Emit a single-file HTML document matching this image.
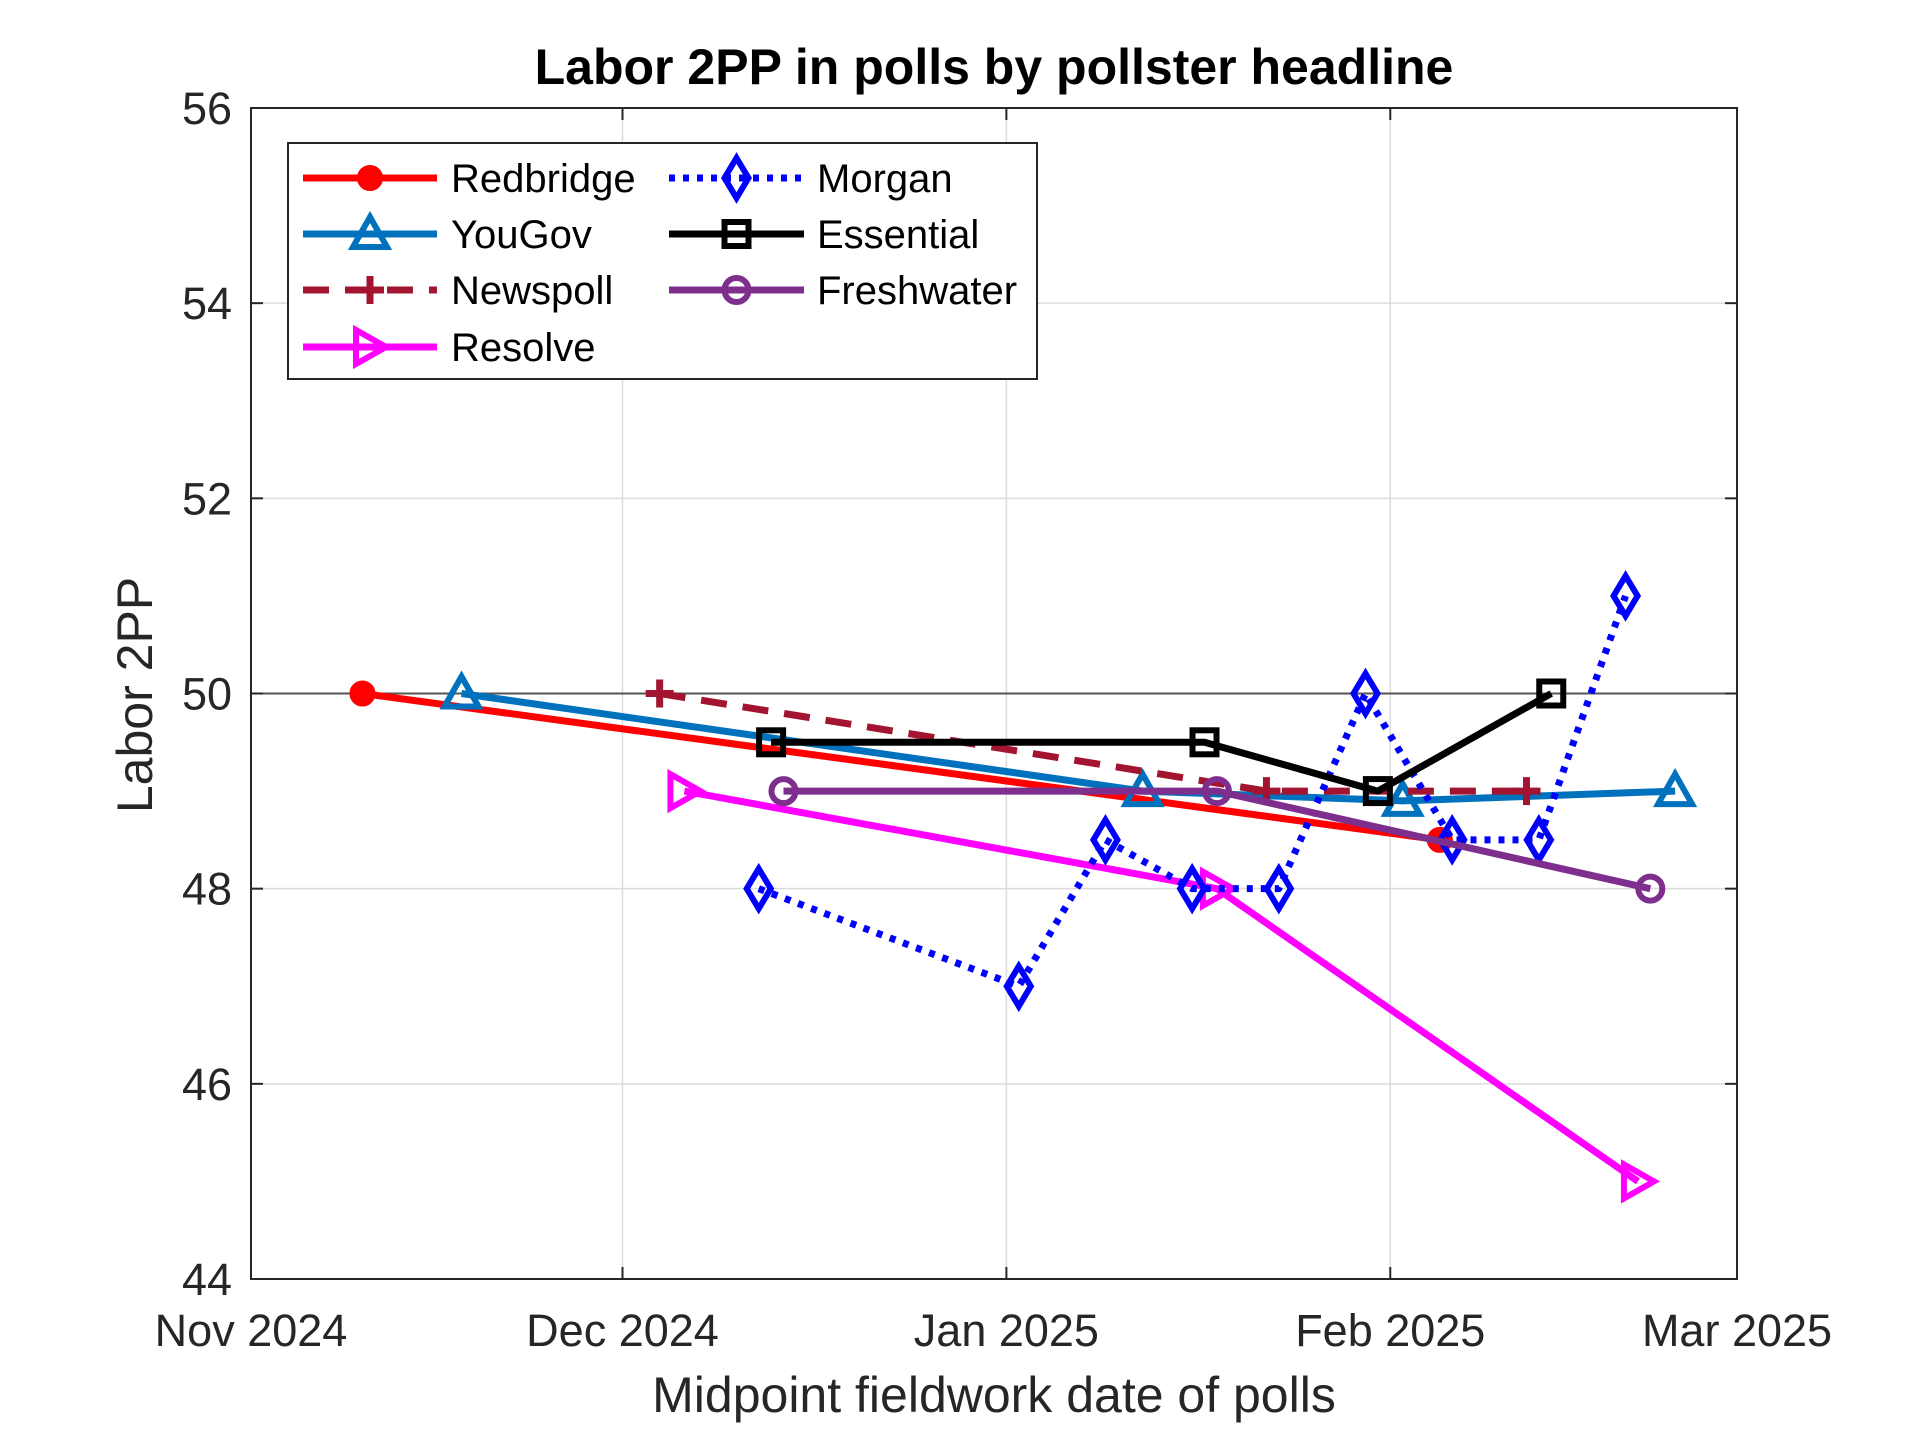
<!DOCTYPE html>
<html><head><meta charset="utf-8"><style>
html,body{margin:0;padding:0;background:#fff;}
svg{display:block;font-family:"Liberation Sans",Arial,sans-serif;}
</style></head><body>
<svg id="chart" width="1920" height="1439" viewBox="0 0 1920 1439" xmlns="http://www.w3.org/2000/svg">
<rect width="1920" height="1439" fill="#fff"/>
<text x="994" y="84" text-anchor="middle" font-size="50" font-weight="bold" fill="#000">Labor 2PP in polls by pollster headline</text>
<g id="grid"></g>
<g id="series"></g>
<rect x="251" y="108" width="1486" height="1171" fill="none" stroke="#262626" stroke-width="2"/>
<g id="ticks"></g>
<text transform="translate(152,695) rotate(-90)" text-anchor="middle" font-size="50" fill="#262626">Labor 2PP</text>
<text x="994" y="1412" text-anchor="middle" font-size="50" fill="#262626">Midpoint fieldwork date of polls</text>
<g id="legend"></g>
</svg>
<script>
// ---- data (day offsets from 1 Nov 2024) ----
const seriesNames = ["Redbridge","YouGov","Newspoll","Resolve","Morgan","Essential","Freshwater"];
const redbridgeDays = [9, 96];
const redbridgeVals = [50, 48.5];
const yougovDays = [17, 72, 93, 115];
const yougovVals = [50, 49, 48.9, 49];
const newspollDays = [33, 82, 103];
const newspollVals = [50, 49, 49];
const resolveDays = [35, 78, 112];
const resolveVals = [49, 48, 45];
const morganDays = [41, 62, 69, 76, 83, 90, 97, 104, 111];
const morganVals = [48, 47, 48.5, 48, 48, 50, 48.5, 48.5, 51];
const essentialDays = [42, 77, 91, 105];
const essentialVals = [49.5, 49.5, 49, 50];
const freshwaterDays = [43, 78, 113];
const freshwaterVals = [49, 49, 48];
const xTickDays = [0, 30, 61, 92, 120];
const xTickLabels = ["Nov 2024","Dec 2024","Jan 2025","Feb 2025","Mar 2025"];
const yTicks = [44, 46, 48, 50, 52, 54, 56];

const NS = "http://www.w3.org/2000/svg";
const X0 = 251, X1 = 1737, Y0 = 1279, Y1 = 108;
const xs = d => X0 + (d - 0) / 120 * (X1 - X0);
const ys = v => Y0 - (v - 44) / 12 * (Y0 - Y1);
function mk(tag, attrs, parent){ const e = document.createElementNS(NS, tag); for (const k in attrs) e.setAttribute(k, attrs[k]); parent.appendChild(e); return e; }

const grid = document.getElementById('grid'), ticks = document.getElementById('ticks');
xTickDays.forEach((d, i) => {
  const x = xs(d);
  const g = mk('line', {x1:x, x2:x, y1:Y1, y2:Y0, stroke:'#dcdcdc', 'stroke-width':1.5}, grid);
  
  
  mk('line', {x1:x, x2:x, y1:Y0, y2:Y0-12, stroke:'#262626', 'stroke-width':2}, ticks);
  mk('line', {x1:x, x2:x, y1:Y1, y2:Y1+12, stroke:'#262626', 'stroke-width':2}, ticks);
  const t = mk('text', {x:x, y:1346, 'text-anchor':'middle', 'font-size':45, fill:'#262626'}, ticks);
  t.textContent = xTickLabels[i];
  
  
});
yTicks.forEach(v => {
  const y = ys(v);
  const g = mk('line', {x1:X0, x2:X1, y1:y, y2:y, stroke: v===50 ? '#555' : '#dcdcdc', 'stroke-width': v===50 ? 2 : 1.5}, grid);
  
  
  mk('line', {x1:X0, x2:X0+12, y1:y, y2:y, stroke:'#262626', 'stroke-width':2}, ticks);
  mk('line', {x1:X1, x2:X1-12, y1:y, y2:y, stroke:'#262626', 'stroke-width':2}, ticks);
  const t = mk('text', {x:232, y:y+16, 'text-anchor':'end', 'font-size':45, fill:'#262626'}, ticks);
  t.textContent = v;
  
  
});

const styles = [
  {days:redbridgeDays, vals:redbridgeVals, color:'#ff0000', dash:null, marker:'dot'},
  {days:yougovDays, vals:yougovVals, color:'#0072bd', dash:null, marker:'tri'},
  {days:newspollDays, vals:newspollVals, color:'#a2142f', dash:'26 16', marker:'plus'},
  {days:resolveDays, vals:resolveVals, color:'#ff00ff', dash:null, marker:'right'},
  {days:morganDays, vals:morganVals, color:'#0000ff', dash:'6 8', marker:'diamond'},
  {days:essentialDays, vals:essentialVals, color:'#000000', dash:null, marker:'square'},
  {days:freshwaterDays, vals:freshwaterVals, color:'#7e2f8e', dash:null, marker:'circle'}
];
function marker(type, x, y, color, parent){
  const sw = 6; let e;
  if (type==='dot') e = mk('circle', {cx:x, cy:y, r:12, fill:color, stroke:color, 'stroke-width':2}, parent);
  else if (type==='tri') e = mk('polygon', {points:`${x},${y-17} ${x-17},${y+13} ${x+17},${y+13}`, fill:'none', stroke:color, 'stroke-width':sw}, parent);
  else if (type==='plus') e = mk('path', {d:`M${x-14},${y}H${x+14}M${x},${y-14}V${y+14}`, stroke:color, 'stroke-width':7, fill:'none'}, parent);
  else if (type==='right') e = mk('polygon', {points:`${x-14},${y-17} ${x+16},${y} ${x-14},${y+17}`, fill:'none', stroke:color, 'stroke-width':sw}, parent);
  else if (type==='diamond') e = mk('polygon', {points:`${x},${y-20} ${x+12},${y} ${x},${y+20} ${x-12},${y}`, fill:'none', stroke:color, 'stroke-width':sw}, parent);
  else if (type==='square') e = mk('rect', {x:x-12, y:y-12, width:24, height:24, fill:'none', stroke:color, 'stroke-width':sw}, parent);
  else e = mk('circle', {cx:x, cy:y, r:12, fill:'none', stroke:color, 'stroke-width':sw}, parent);
  return e;
}
const sg = document.getElementById('series');
styles.forEach((s, i) => {
  const g = mk('g', {}, sg);
  
  
  const pts = s.days.map((d, j) => xs(d) + ',' + ys(s.vals[j])).join(' ');
  const line = mk('polyline', {points:pts, fill:'none', stroke:s.color, 'stroke-width':7, 'stroke-linejoin':'round'}, g);
  if (s.dash) line.setAttribute('stroke-dasharray', s.dash);
  
  
  s.days.forEach((d, j) => {
    const m = marker(s.marker, xs(d), ys(s.vals[j]), s.color, g);
    
    
  });
});

// legend
const lg = document.getElementById('legend');


mk('rect', {x:288, y:143, width:749, height:236, fill:'#fff', stroke:'#262626', 'stroke-width':2}, lg);
const rowY = [178, 234, 290, 347];
styles.forEach((s, i) => {
  const col = i < 4 ? 0 : 1, row = i < 4 ? i : i - 4;
  const lx0 = col ? 669 : 303, lx1 = col ? 804 : 437, tx = col ? 817 : 451;
  const y = rowY[row];
  const e = mk('g', {}, lg);
  
  
  const l = mk('line', {x1:lx0, x2:lx1, y1:y, y2:y, stroke:s.color, 'stroke-width':7}, e);
  if (s.dash) l.setAttribute('stroke-dasharray', s.dash);
  marker(s.marker, (lx0+lx1)/2, y, s.color, e);
  const t = mk('text', {x:tx, y:y+14, 'font-size':40, fill:'#000'}, e);
  t.textContent = seriesNames[i];
});
</script>
</body></html>
